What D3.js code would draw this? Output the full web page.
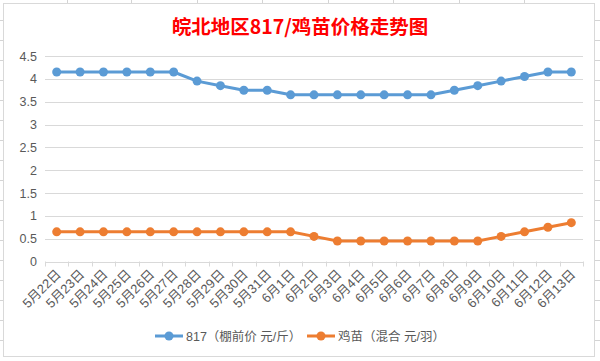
<!DOCTYPE html>
<html><head><meta charset="utf-8">
<script src="https://cdn.jsdelivr.net/npm/d3@7"></script>
<style>
html,body{margin:0;padding:0;background:#fff;}
svg{display:block;}
</style></head>
<body>
<svg id="chart" width="600" height="361"></svg>
<script>
const categories = ["5月22日","5月23日","5月24日","5月25日","5月26日","5月27日","5月28日","5月29日","5月30日","5月31日","6月1日","6月2日","6月3日","6月4日","6月5日","6月6日","6月7日","6月8日","6月9日","6月10日","6月11日","6月12日","6月13日"];
const series817 = [4.15,4.15,4.15,4.15,4.15,4.15,3.95,3.85,3.75,3.75,3.65,3.65,3.65,3.65,3.65,3.65,3.65,3.75,3.85,3.95,4.05,4.15,4.15];
const seriesChick = [0.65,0.65,0.65,0.65,0.65,0.65,0.65,0.65,0.65,0.65,0.65,0.55,0.45,0.45,0.45,0.45,0.45,0.45,0.45,0.55,0.65,0.75,0.85];
const yTicks = [0,0.5,1,1.5,2,2.5,3,3.5,4,4.5];
const seriesNames = ["817（棚前价 元/斤）","鸡苗（混合 元/羽）"];
const colors = ["#5B9BD5","#ED7D31"];
const title = "皖北地区817/鸡苗价格走势图";

const svg = d3.select("#chart");
const font = "'Liberation Sans','Noto Sans CJK SC',sans-serif";

// spreadsheet background stubs
const bg = svg.append("g");
[67,131,197,262,328,393,459,524].forEach(x=>bg.append("line").attr("x1",x+0.5).attr("x2",x+0.5).attr("y1",0).attr("y2",3).attr("stroke","#d4d4d4"));
[20,40,60,80,100,120,140,160,180,200,220,240,260,280,300,320,340].forEach(y=>{
  bg.append("line").attr("x1",0).attr("x2",3).attr("y1",y+0.5).attr("y2",y+0.5).attr("stroke","#d4d4d4");
  bg.append("line").attr("x1",595).attr("x2",600).attr("y1",y+0.5).attr("y2",y+0.5).attr("stroke","#d4d4d4");
});
svg.append("rect").attr("x",3.5).attr("y",3.5).attr("width",591).attr("height",353)
  .attr("fill","#fff").attr("stroke","#d9d9d9");

const x = d3.scaleBand().domain(categories).range([45,583]);
const y = d3.scaleLinear().domain([0,4.5]).range([261.5,56]);

// gridlines
svg.append("g").selectAll("line").data(yTicks.filter(d=>d>0)).join("line")
  .attr("x1",45).attr("x2",583)
  .attr("y1",d=>Math.round(y(d))+0.5).attr("y2",d=>Math.round(y(d))+0.5)
  .attr("stroke","#d9d9d9").attr("stroke-width",1);

// y labels
svg.append("g").selectAll("text").data(yTicks).join("text")
  .attr("x",37).attr("y",d=>y(d)+4.5).attr("text-anchor","end")
  .attr("font-family",font).attr("font-size",12.5).attr("fill","#595959")
  .text(d=>d);

// x axis
const xAxis = d3.axisBottom(x).tickSize(0).tickFormat("");
const xg = svg.append("g").attr("transform",`translate(0,${Math.round(y(0))+0.5})`).call(xAxis);
xg.select(".domain").attr("stroke","#d9d9d9").attr("d","M45,0H583");
const bounds = categories.map(c=>x(c)).concat([x.range()[1]]);
svg.append("g").selectAll("line").data(bounds).join("line")
  .attr("x1",d=>Math.round(d)+0.5).attr("x2",d=>Math.round(d)+0.5)
  .attr("y1",y(0)).attr("y2",y(0)+5).attr("stroke","#d9d9d9");

// x labels
svg.append("g").selectAll("text").data(categories).join("text")
  .attr("transform",d=>`translate(${x(d)+x.bandwidth()/2+5},${275}) rotate(-45)`)
  .attr("text-anchor","end")
  .attr("font-family",font).attr("font-size",13).attr("fill","#595959")
  .text(d=>d);

// lines
const line = d3.line().x((d,i)=>x(categories[i])+x.bandwidth()/2).y(d=>y(d));
[series817,seriesChick].forEach((s,k)=>{
  svg.append("path").datum(s).attr("d",line).attr("fill","none")
    .attr("stroke",colors[k]).attr("stroke-width",3).attr("stroke-linejoin","round");
  svg.append("g").selectAll("circle").data(s).join("circle")
    .attr("cx",(d,i)=>x(categories[i])+x.bandwidth()/2).attr("cy",d=>y(d))
    .attr("r",4.5).attr("fill",colors[k]);
});

// title
svg.append("text").attr("x",300).attr("y",34).attr("text-anchor","middle")
  .attr("font-family","'Noto Sans CJK SC',sans-serif").attr("font-weight","bold")
  .attr("font-size",19.5).attr("fill","#FF0000").text(title);

// legend
const legendX = [155,307];
seriesNames.forEach((n,k)=>{
  const g = svg.append("g").attr("transform",`translate(${legendX[k]},336)`);
  g.append("line").attr("x1",0).attr("x2",28).attr("y1",0).attr("y2",0)
    .attr("stroke",colors[k]).attr("stroke-width",3);
  g.append("circle").attr("cx",14).attr("cy",0).attr("r",4.5).attr("fill",colors[k]);
  g.append("text").attr("x",31).attr("y",4.5).attr("font-family",font)
    .attr("font-size",12.5).attr("fill","#595959").text(n);
});
</script>
</body></html>
